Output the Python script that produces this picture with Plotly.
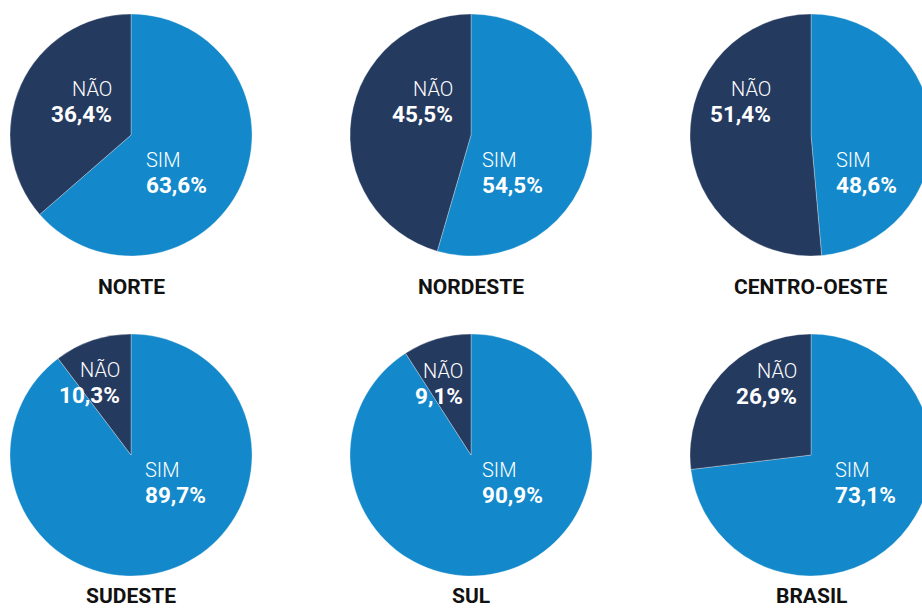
import plotly.graph_objects as go

# ---- data ----
regions = ["NORTE", "NORDESTE", "CENTRO-OESTE", "SUDESTE", "SUL", "BRASIL"]
answers = ["SIM", "NÃO"]
sim_pct = [63.6, 54.5, 48.6, 89.7, 90.9, 73.1]
nao_pct = [36.4, 45.5, 51.4, 10.3, 9.1, 26.9]

# ---- layout (pixels) ----
W, H = 932, 609
R = 121
centers = [(131, 135), (471, 135), (811, 135), (131, 455), (471, 455), (811, 455)]
# label offsets relative to pie centre: (nao_right_dx, sim_left_dx, nao_dy, sim_dy)
label_off = [(-19, 15, -46, 25), (-18, 11, -46, 25), (-40, 25, -46, 25),
             (-11, 14, -85, 15), (-8, 11, -84, 15), (-14, 24, -84, 15)]
title_dy = [152, 152, 152, 141, 141, 141]

BLUE = "#1389CB"
NAVY = "#253A5F"

def fmt(v):
    return f"{v:.1f}".replace(".", ",") + "%"

fig = go.Figure()
ann = []
for i, reg in enumerate(regions):
    cx, cy = centers[i]
    fig.add_trace(go.Pie(
        labels=answers, values=[sim_pct[i], nao_pct[i]],
        sort=False, direction="clockwise", rotation=0,
        marker=dict(colors=[BLUE, NAVY], line=dict(color="rgba(255,255,255,0.6)", width=0.5)),
        textinfo="none", hoverinfo="label+percent", showlegend=False,
        domain=dict(x=[(cx - R) / W, (cx + R) / W], y=[1 - (cy + R) / H, 1 - (cy - R) / H]),
    ))
    ndx, sdx, ndy, sdy = label_off[i]
    for (txt, val, dx, dy, anchor) in [("NÃO", nao_pct[i], ndx, ndy, "right"),
                                       ("SIM", sim_pct[i], sdx, sdy, "left")]:
        xx = (cx + dx + (2 if anchor == "right" else -2)) / W
        ann.append(dict(text=txt, x=xx, y=1 - (cy + dy) / H,
                        xref="paper", yref="paper", xanchor=anchor, yanchor="middle",
                        showarrow=False,
                        font=dict(family="Roboto", size=20, color="white", weight=300)))
        ann.append(dict(text=fmt(val), x=xx, y=1 - (cy + dy + 25) / H,
                        xref="paper", yref="paper", xanchor=anchor, yanchor="middle",
                        showarrow=False,
                        font=dict(family="Roboto", size=22.5, color="white", weight=700)))
    ann.append(dict(text=reg, x=cx / W, y=1 - (cy + title_dy[i]) / H,
                    xref="paper", yref="paper", xanchor="center", yanchor="middle",
                    showarrow=False,
                    font=dict(family="Roboto", size=21, color="#111111", weight=700)))

fig.update_layout(width=W, height=H, margin=dict(l=0, r=0, t=0, b=0),
                  paper_bgcolor="white", plot_bgcolor="white", annotations=ann)

fig.write_html("out.html", config={"displayModeBar": False},
               post_script="document.body.style.margin='0';document.body.style.overflow='hidden';")
